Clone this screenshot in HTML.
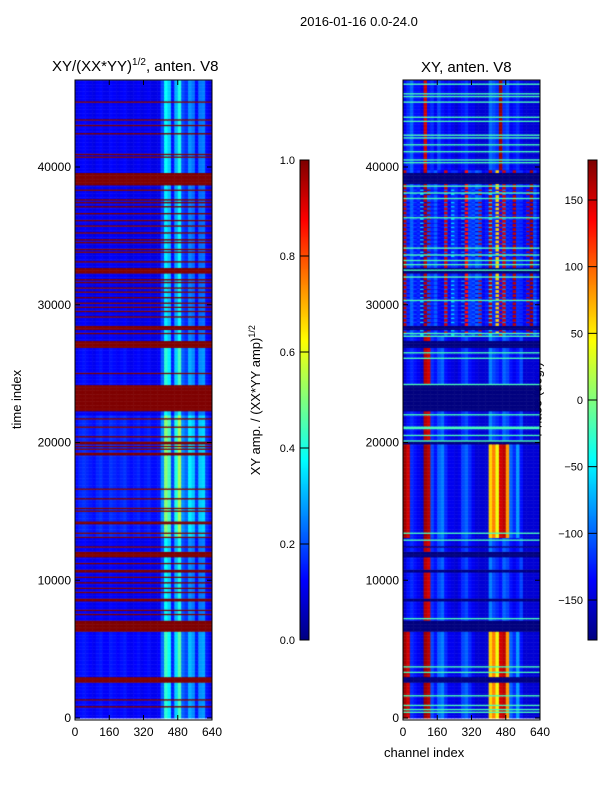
<!DOCTYPE html>
<html><head><meta charset="utf-8">
<style>
body{margin:0;background:#fff;font-family:"Liberation Sans",sans-serif;}
#root{position:relative;width:600px;height:800px;overflow:hidden;background:#fff}
.t{position:absolute;font-size:12px;color:#000;white-space:nowrap}
canvas{position:absolute}
</style></head><body>
<div id="root">
<div class="t" style="left:300px;top:14px;font-size:13px">2016-01-16 0.0-24.0</div>
<div class="t" style="left:52px;top:57px;font-size:15px">XY/(XX*YY)<sup style="font-size:10px">1/2</sup>, anten. V8</div>
<div class="t" style="left:421px;top:59px;font-size:15px">XY, anten. V8</div>
<div class="t" style="left:-13px;top:392px;transform:rotate(-90deg);font-size:13px">time index</div>
<div class="t" style="left:384px;top:745px;font-size:13px">channel index</div>
<div class="t" style="left:180px;top:392px;transform:rotate(-90deg);font-size:13px">XY amp. / (XX*YY amp)<sup style="font-size:9px">1/2</sup></div>
<div class="t" style="left:500px;top:392px;transform:rotate(-90deg);font-size:13px">Phase (deg.)</div>
<canvas id="cl" width="137" height="640" style="left:75px;top:80px"></canvas>
<canvas id="cr" width="137" height="640" style="left:403px;top:80px"></canvas>
<canvas id="cbl" width="9" height="480" style="left:300px;top:160px"></canvas>
<canvas id="cbr" width="9" height="480" style="left:588px;top:160px"></canvas>
<svg id="ov" width="600" height="800" style="position:absolute;left:0;top:0"></svg>
</div>
<script>
// ---- data (time in thousands) ----
const yTicks=[0,10000,20000,30000,40000];
const xTicks=[0,160,320,480,640];
const ampTicks=[0.0,0.2,0.4,0.6,0.8,1.0];
const phaseTicks=[-150,-100,-50,0,50,100,150];
const flagBands=[[22.3,24.2],[38.8,39.6],[26.9,27.4],[28.2,28.5],[32.3,32.7],[6.2,7.0],[2.6,3.0],[19.9,20.1],[12.3,12.4],[11.6,12.0],[10.5,10.7],[8.4,8.6]];
const flagLines=[44.7,43.4,43.05,42.4,40.9,40.7,38.7,38.3,37.6,37.4,37.1,36.6,36.1,35.7,35.2,34.7,34.5,34.0,33.8,33.1,31.8,31.6,31.2,30.9,30.5,30.1,29.8,29.5,29.1,27.9,25.0,21.7,21.1,20.4,19.7,19.5,19.2,19.1,16.6,15.9,15.2,15.0,14.2,14.1,13.4,13.1,11.2,10.2,9.8,9.4,9.1,7.8,7.5,1.3,0.8];
const colAmp=[0.1,0.12,0.13,0.12,0.11,0.1,0.12,0.13,0.11,0.11,0.13,0.12,0.11,0.12,0.13,0.11,0.1,0.11,0.12,0.1,0.11,0.12,0.1,0.1,0.11,0.2,0.38,0.33,0.14,0.3,0.4,0.2,0.17,0.27,0.24,0.13,0.24,0.25,0.13,0.1];
const ampGain=[[0,3,1.1],[3,7,1.15],[7,13,1.0],[13,22,1.35],[24,27,1.1],[27,39,0.95],[39,47,1.0]];
const greenLines=[46.0,45.35,45.1,44.7,43.65,43.3,42.3,42.1,41.6,41.1,40.5,40.3,38.6,38.1,37.7,36.3,34.1,33.6,33.2,32.9,32.5,32.0,30.3,27.9,27.7,26.5,26.1,24.2,22.0,21.1,21.0,20.5,20.1,13.4,12.9,7.15,3.7,3.35,1.6,0.9,0.6,0.4];
const profQuiet=[-150,-130,-120,-130,-140,-150,160,150,-120,-130,-110,-100,-130,-140,-145,-150,-140,-120,-110,-130,-140,-145,-150,-150,-150,-90,-110,-120,-130,-100,-110,-130,-140,-130,-110,-150,-150,-150,-150,-150];
const profRedEdge=[170,150,-120,-130,-140,-150,170,160,-110,-130,-100,-90,-120,-140,-140,-145,-140,-110,-100,-120,-140,-150,-150,-150,-150,60,90,40,150,160,80,-100,-120,-80,-130,-150,-150,-150,-150,-150];
const profNoisyA=[160,-120,-100,-130,-120,-150,160,-110,-120,-100,-130,-140,150,-130,-120,-120,-140,-150,130,-110,-120,-100,-110,-140,-130,160,-120,60,-130,150,-120,-130,160,-120,-120,-140,-130,170,-120,-150];
const profNoisyB=[-120,-140,-100,-110,-130,-60,-150,170,-130,-120,-140,-130,-100,-140,-60,-120,-130,-90,-140,-120,-100,-140,160,-130,-120,-60,-120,-130,150,-90,-130,-120,-140,-120,-130,-130,160,-140,-100,-130];
const profUpper=[-140,-120,-100,-130,-130,-140,150,-130,-120,-140,-110,-130,-140,-130,-140,-150,-140,-130,-120,-140,-140,-150,-150,-150,-150,-100,-110,-120,170,-120,-110,-140,-130,-120,-140,-150,-150,-150,-150,-150];
const phaseSegments=[[0,3,'red'],[3,6.2,'red'],[7,13,'quiet'],[13,20,'red'],[20,22.3,'quiet'],[24.2,27.8,'quiet'],[27.8,39.8,'noisy'],[39.8,47,'upper']];
const TMAX=46.3, NCH=640;
</script>
<script>
function jet(v){v=Math.max(0,Math.min(1,v));
 const r=Math.max(0,Math.min(1,1.5-Math.abs(4*v-3))),g=Math.max(0,Math.min(1,1.5-Math.abs(4*v-2))),b=Math.max(0,Math.min(1,1.5-Math.abs(4*v-1)));
 return `rgb(${r*255|0},${g*255|0},${b*255|0})`;}
function yOf(t){return 638-t*13.775;}
function xOf(ch){return ch*137/640;}
const dt=0.1, binW=16;
function inBands(t,b){return b.some(r=>t>=r[0]&&t<r[1]);}
function nearLine(t,l){return l.some(v=>Math.abs(t-v)<0.05);}
(function(){const c=document.getElementById('cl').getContext('2d');
 for(let t=0;t<TMAX;t+=dt){const y0=yOf(t+dt),h=yOf(t)-y0+0.5;
  let g=1;ampGain.forEach(s=>{if(t>=s[0]&&t<s[1])g=s[2];});
  const flag=inBands(t,flagBands)||nearLine(t,flagLines);
  for(let i=0;i<colAmp.length;i++){
   c.fillStyle=flag?jet(1):jet(colAmp[i]*g);
   c.fillRect(xOf(i*binW),y0,xOf(binW)+0.5,h);}}
})();
(function(){const c=document.getElementById('cr').getContext('2d');
 const ph=v=>jet((v+180)/360);
 let k=0;
 for(let t=0;t<TMAX;t+=dt){k++;const y0=yOf(t+dt),h=yOf(t)-y0+0.5;
  let prof=null;phaseSegments.forEach(s=>{if(t>=s[0]&&t<s[1])prof=s[2];});
  const nav=inBands(t,flagBands)||!prof;
  const gl=nearLine(t,greenLines);
  let p=prof==='red'?profRedEdge:prof==='noisy'?((k%3)?profNoisyA:profNoisyB):prof==='upper'?profUpper:profQuiet;
  for(let i=0;i<p.length;i++){
   c.fillStyle=gl?ph(-20):nav?'#00007f':ph(p[i]);
   c.fillRect(xOf(i*binW),y0,xOf(binW)+0.5,h);}}
})();
['cbl','cbr'].forEach(id=>{const c=document.getElementById(id).getContext('2d');
 for(let y=0;y<480;y++){c.fillStyle=jet(1-y/480);c.fillRect(0,y,9,1);}});
const ov=document.getElementById('ov');const NS='http://www.w3.org/2000/svg';
function el(tag,a,txt){const e=document.createElementNS(NS,tag);for(const k in a)e.setAttribute(k,a[k]);if(txt!==undefined)e.textContent=txt;ov.appendChild(e);return e;}
[75,403].forEach((x0,pi)=>{
 const fr=el('rect',{x:x0,y:80,width:137,height:640,fill:'none',stroke:'#000','stroke-width':1});
 
 
 yTicks.forEach(v=>{const y=80+yOf(v/1000);
  el('line',{x1:x0,x2:x0+5,y1:y,y2:y,stroke:'#000'});el('line',{x1:x0+137,x2:x0+132,y1:y,y2:y,stroke:'#000'});
  const t=el('text',{x:x0-4,y:y+4,'text-anchor':'end','font-size':12,'font-family':'Liberation Sans'},String(v));
  
  });
 xTicks.forEach(v=>{const x=x0+xOf(v);
  el('line',{x1:x,x2:x,y1:720,y2:715,stroke:'#000'});el('line',{x1:x,x2:x,y1:80,y2:85,stroke:'#000'});
  const t=el('text',{x:x,y:736,'text-anchor':'middle','font-size':12,'font-family':'Liberation Sans'},String(v));
  
  });
});
el('rect',{x:300,y:160,width:9,height:480,fill:'none',stroke:'#000'});
el('rect',{x:588,y:160,width:9,height:480,fill:'none',stroke:'#000'});
ampTicks.forEach(v=>{const y=640-v*480;
 el('line',{x1:300,x2:309,y1:y,y2:y,stroke:'#000'});
 const t=el('text',{x:295,y:y+4,'text-anchor':'end','font-size':11,'font-family':'Liberation Sans'},v.toFixed(1));
 
 });
phaseTicks.forEach(v=>{const y=640-(v+180)/360*480;
 el('line',{x1:588,x2:597,y1:y,y2:y,stroke:'#000'});
 const t=el('text',{x:583,y:y+4,'text-anchor':'end','font-size':11,'font-family':'Liberation Sans'},v<0?'\u2212'+(-v):String(v));
 
 });
</script>
</body></html>
